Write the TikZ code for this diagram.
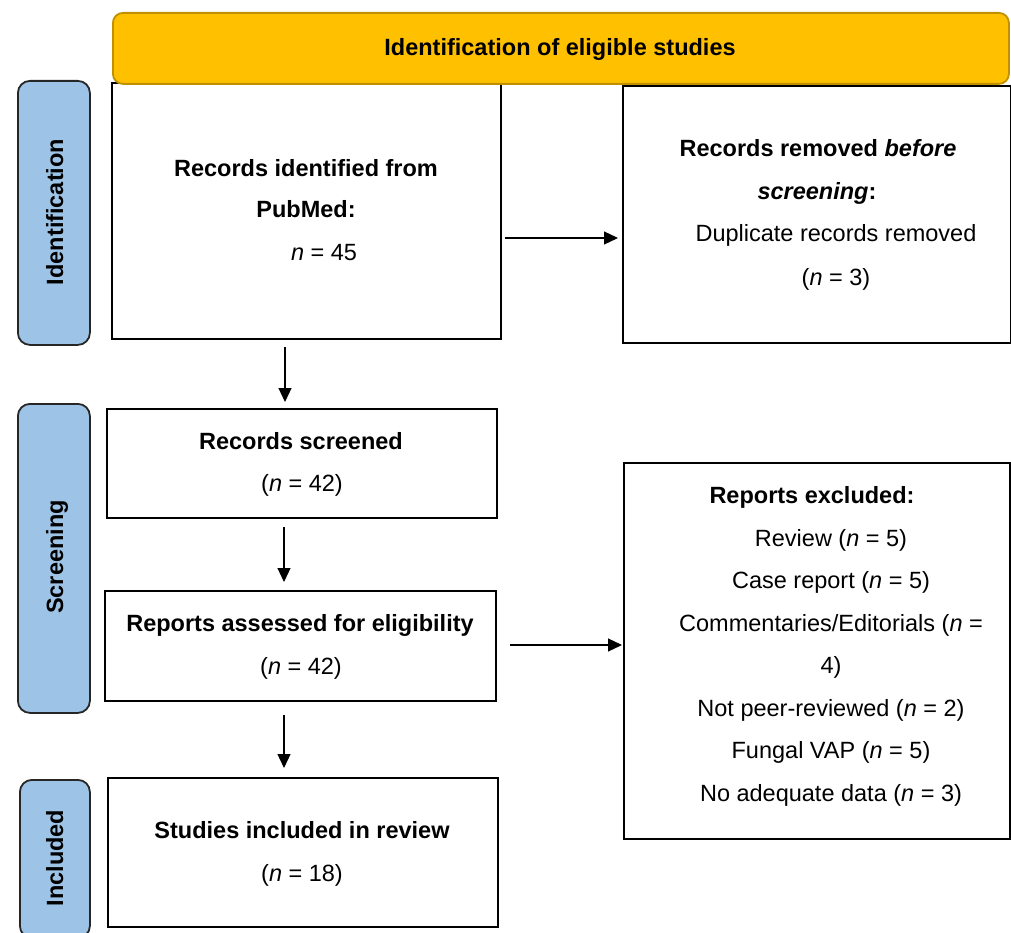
\documentclass[tikz,border=0pt]{standalone}
\usepackage{fontspec}
\setmainfont{Liberation Sans}
\usetikzlibrary{arrows.meta}
\definecolor{bannerfill}{HTML}{FFC000}
\definecolor{bannerline}{HTML}{BF9000}
\definecolor{labfill}{HTML}{9DC3E6}
\definecolor{labline}{HTML}{262626}
\begin{document}
\begin{tikzpicture}[x=1pt,y=-1pt,
  every node/.style={font=\fontsize{23.5}{28}\selectfont},
  flowbox/.style={draw=black, line width=1.8pt, fill=white, inner sep=0pt, anchor=north west},
  banner/.style={draw=bannerline, line width=1.8pt, fill=bannerfill, rounded corners=10pt, inner sep=0pt, anchor=north west},
  stagebox/.style={draw=labline, line width=1.8pt, fill=labfill, rounded corners=12pt, inner sep=0pt, anchor=north west},
  txt/.style={anchor=base, inner sep=0pt},
  stagetxt/.style={anchor=base, rotate=90, inner sep=0pt, font=\fontsize{23.5}{28}\selectfont\bfseries},
  arr/.style={line width=1.2pt, -{Triangle[length=14pt,width=13pt]}}
]
\useasboundingbox (0,0) rectangle (1011,933);
\clip (0,0) rectangle (1011,933);

% stage labels
\node[stagebox, minimum width=72pt, minimum height=264pt] (l1) at (17,80) {};
\node[stagetxt] (l1t) at (63,212) {Identification};
\node[stagebox, minimum width=72pt, minimum height=309pt] (l2) at (17,403) {};
\node[stagetxt] (l2t) at (63,557) {Screening};
\node[stagebox, minimum width=70pt, minimum height=158pt] (l3) at (19,779) {};
\node[stagetxt] (l3t) at (63,858) {Included};

% boxes
\node[flowbox, minimum width=389pt, minimum height=256pt] (b1) at (111,82) {};
\node[flowbox, minimum width=388pt, minimum height=257pt] (rem) at (622,85) {};
\node[flowbox, minimum width=390pt, minimum height=109pt] (scr) at (106,408) {};
\node[flowbox, minimum width=391pt, minimum height=110pt] (ass) at (104,590) {};
\node[flowbox, minimum width=386pt, minimum height=376pt] (exc) at (623,462) {};
\node[flowbox, minimum width=390pt, minimum height=149pt] (inc) at (107,777) {};

% banner
\node[banner, minimum width=896pt, minimum height=71pt] (ban) at (112,12) {};
\node[txt] (bant) at (560,56) {\bfseries Identification of eligible studies};

% texts
\node[txt] (b1a) at (306,177) {\bfseries Records identified from};
\node[txt] (b1b) at (306,218) {\bfseries PubMed:};
\node[txt] (b1c) at (324,260) {\textit{n} = 45};

\node[txt] (rema) at (818,157) {\bfseries Records removed \textit{before}};
\node[txt] (remb) at (817,200) {\bfseries\textit{screening}:};
\node[txt] (remc) at (836,242) {Duplicate records removed};
\node[txt] (remd) at (836,285) {(\textit{n} = 3)};

\node[txt] (scra) at (301,449) {\bfseries Records screened};
\node[txt] (scrb) at (302,491) {(\textit{n} = 42)};

\node[txt] (assa) at (300,631) {\bfseries Reports assessed for eligibility};
\node[txt] (assb) at (301,674) {(\textit{n} = 42)};

\node[txt] (inca) at (302,838) {\bfseries Studies included in review};
\node[txt] (incb) at (302,881) {(\textit{n} = 18)};

\node[txt] (exca) at (812,503) {\bfseries Reports excluded:};
\node[txt] (excb) at (831,546) {Review (\textit{n} = 5)};
\node[txt] (excc) at (831,588.5) {Case report (\textit{n} = 5)};
\node[txt] (excd) at (831,631) {Commentaries/Editorials (\textit{n} =};
\node[txt] (exce) at (831,673.5) {4)};
\node[txt] (excf) at (831,716) {Not peer-reviewed (\textit{n} = 2)};
\node[txt] (excg) at (831,758.5) {Fungal VAP (\textit{n} = 5)};
\node[txt] (exch) at (831,801) {No adequate data (\textit{n} = 3)};

% connector guides
\coordinate (ay1) at (0,238);
\coordinate (ay2) at (0,645);
\coordinate (ax1) at (285,0);
\coordinate (ax2) at (284,0);

% connectors
\draw[arr, shorten <=3pt, shorten >=4pt] (b1.east |- ay1) -- (rem.west |- ay1);
\draw[arr, shorten <=7pt, shorten >=6pt] (b1.south -| ax1) -- (scr.north -| ax1);
\draw[arr, shorten <=8pt, shorten >=8pt] (scr.south -| ax2) -- (ass.north -| ax2);
\draw[arr, shorten <=13pt, shorten >=1pt] (ass.east |- ay2) -- (exc.west |- ay2);
\draw[arr, shorten <=13pt, shorten >=9pt] (ass.south -| ax2) -- (inc.north -| ax2);
\end{tikzpicture}
\end{document}
